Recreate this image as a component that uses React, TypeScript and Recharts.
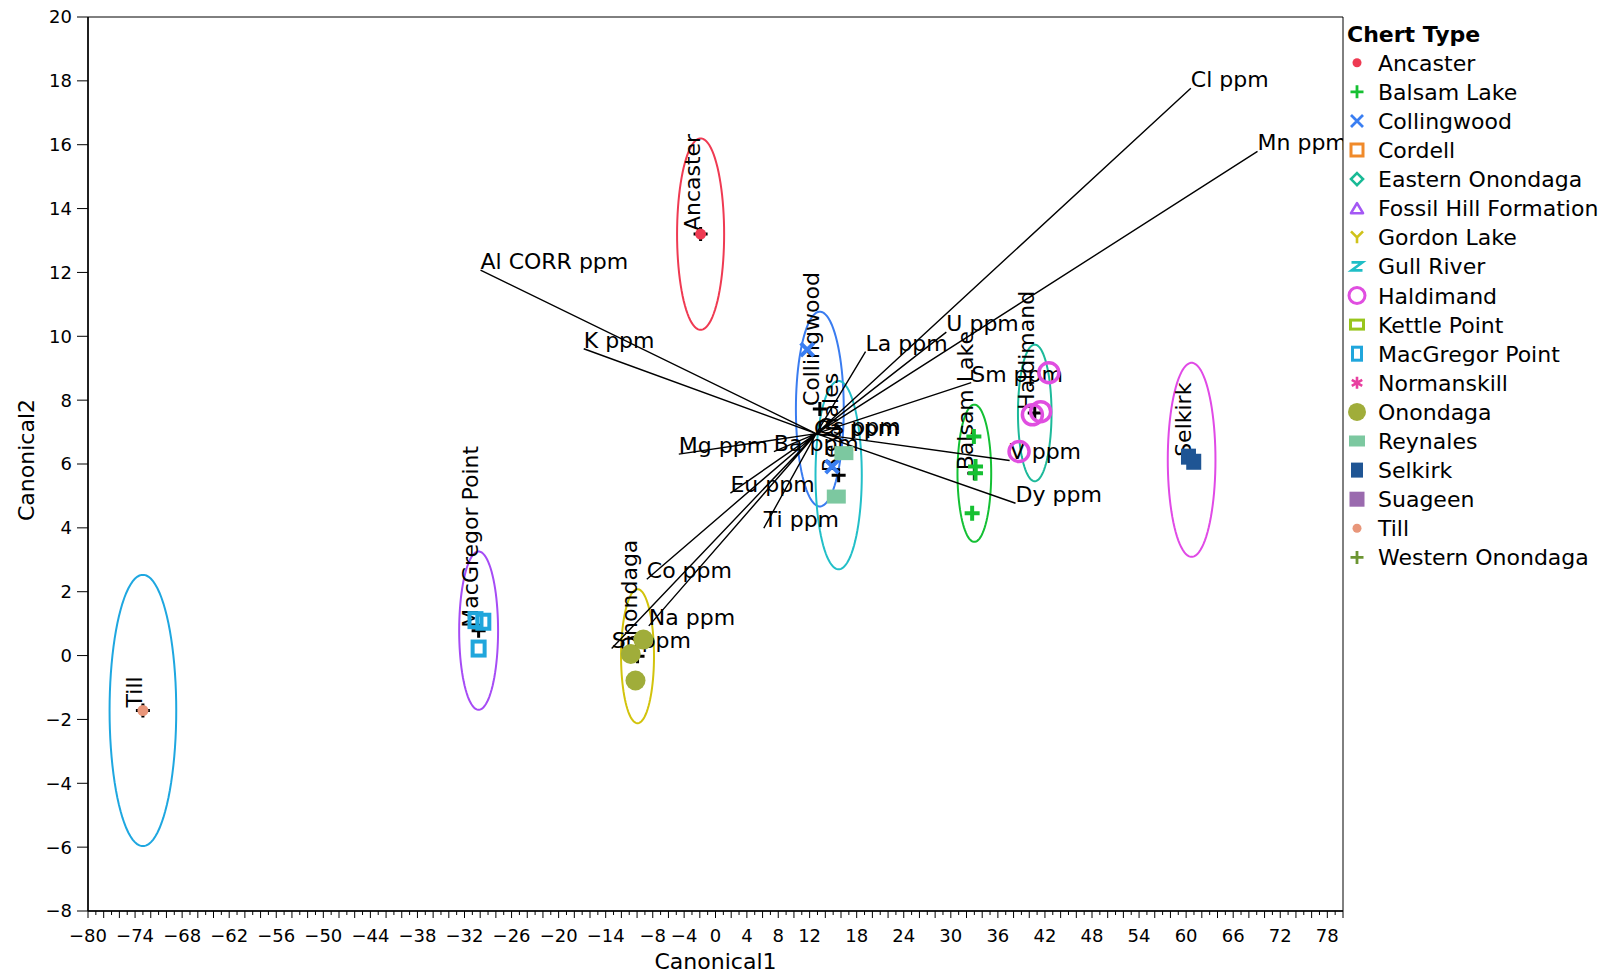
import React from "react";
import { ScatterChart, Scatter, XAxis, YAxis, ReferenceArea } from "recharts";

// legend entries (Chert Type)
const chertTypes = [
  "Ancaster",
  "Balsam Lake",
  "Collingwood",
  "Cordell",
  "Eastern Onondaga",
  "Fossil Hill Formation",
  "Gordon Lake",
  "Gull River",
  "Haldimand",
  "Kettle Point",
  "MacGregor Point",
  "Normanskill",
  "Onondaga",
  "Reynales",
  "Selkirk",
  "Suageen",
  "Till",
  "Western Onondaga",
];

// sample scores (Canonical1, Canonical2)
const ancasterPts = [{ x: -1.9, y: 13.2 }];
const tillPts = [{ x: -73.0, y: -1.72 }];
const macgregorPts = [
  { x: -30.6, y: 1.11 },
  { x: -29.6, y: 1.06 },
  { x: -30.2, y: 0.22 },
];
const onondagaPts = [
  { x: -9.2, y: 0.5 },
  { x: -10.8, y: 0.05 },
  { x: -10.2, y: -0.78 },
];
const collingwoodPts = [
  { x: 11.69, y: 9.58 },
  { x: 14.87, y: 5.92 },
];
const reynalesPts = [
  { x: 16.37, y: 6.34 },
  { x: 15.4, y: 4.98 },
];
const balsamPts = [
  { x: 32.94, y: 6.86 },
  { x: 33.15, y: 5.92 },
  { x: 33.15, y: 5.71 },
  { x: 32.72, y: 4.46 },
];
const haldimandPts = [
  { x: 42.5, y: 8.86 },
  { x: 40.4, y: 7.54 },
  { x: 41.45, y: 7.64 },
  { x: 38.7, y: 6.39 },
];
const selkirkPts = [
  { x: 60.3, y: 6.23 },
  { x: 60.97, y: 6.07 },
];

// group means and confidence radius (canonical units)
const groupMeans = [
  { name: "Ancaster", x: -1.9, y: 13.2, r: 3.0 },
  { name: "Till", x: -73.0, y: -1.72, r: 4.25 },
  { name: "MacGregor Point", x: -30.2, y: 0.78, r: 2.48 },
  { name: "Onondaga", x: -9.94, y: -0.02, r: 2.1 },
  { name: "Collingwood", x: 13.3, y: 7.72, r: 3.05 },
  { name: "Reynales", x: 15.7, y: 5.65, r: 2.95 },
  { name: "Balsam Lake", x: 33.0, y: 5.71, r: 2.15 },
  { name: "Haldimand", x: 40.7, y: 7.6, r: 2.14 },
  { name: "Selkirk", x: 60.7, y: 6.13, r: 3.04 },
];

// biplot rays
const rayOrigin = { x: 12.84, y: 6.95 };
const loadings = [
  { name: "Cl ppm", x: 60.6, y: 17.77 },
  { name: "Mn ppm", x: 69.1, y: 15.79 },
  { name: "Al CORR ppm", x: -29.96, y: 12.07 },
  { name: "K ppm", x: -16.8, y: 9.61 },
  { name: "La ppm", x: 19.13, y: 9.52 },
  { name: "U ppm", x: 29.43, y: 10.13 },
  { name: "Sm ppm", x: 32.6, y: 8.55 },
  { name: "V ppm", x: 37.5, y: 6.11 },
  { name: "Dy ppm", x: 38.25, y: 4.77 },
  { name: "Mg ppm", x: -4.68, y: 6.31 },
  { name: "Ba ppm", x: 7.44, y: 6.39 },
  { name: "Eu ppm", x: 1.9, y: 5.09 },
  { name: "Ti ppm", x: 6.16, y: 3.99 },
  { name: "Co ppm", x: -8.76, y: 2.39 },
  { name: "Na ppm", x: -8.5, y: 0.93 },
  { name: "Sr ppm", x: -13.24, y: 0.22 },
  { name: "Ca ppm", x: 12.55, y: 6.85 },
  { name: "Cs ppm", x: 13.0, y: 6.9 },
];

const xTickLabels = [
  -80, -74, -68, -62, -56, -50, -44, -38, -32, -26, -20, -14, -8, -4, 0, 4, 8,
  12, 18, 24, 30, 36, 42, 48, 54, 60, 66, 72, 78,
];
const xMinorTicks = Array.from({ length: 161 }, (_, i) => i - 80);
const yTicks = [-8, -6, -4, -2, 0, 2, 4, 6, 8, 10, 12, 14, 16, 18, 20];

// ---- styles ----
const typeStyle: Record<string, { color: string; kind: string; w: number; h: number; sw: number }> = {
  Ancaster: { color: "#ee3a52", kind: "dot", w: 9, h: 9, sw: 0 },
  "Balsam Lake": { color: "#16c032", kind: "plus", w: 13, h: 13, sw: 2.8 },
  Collingwood: { color: "#3a7ef2", kind: "cross", w: 12, h: 12, sw: 2.8 },
  Cordell: { color: "#f08a2a", kind: "box", w: 12, h: 12, sw: 3 },
  "Eastern Onondaga": { color: "#19ba96", kind: "diamond", w: 12, h: 12, sw: 2.6 },
  "Fossil Hill Formation": { color: "#a458f4", kind: "triangle", w: 12, h: 10, sw: 2.6 },
  "Gordon Lake": { color: "#cfc21a", kind: "ygly", w: 12, h: 12, sw: 2.6 },
  "Gull River": { color: "#1fbec6", kind: "zgly", w: 11, h: 8, sw: 2.6 },
  Haldimand: { color: "#e04ee0", kind: "ring", w: 16, h: 16, sw: 3 },
  "Kettle Point": { color: "#98c51c", kind: "box", w: 13, h: 9, sw: 3 },
  "MacGregor Point": { color: "#20a6dc", kind: "box", w: 9, h: 13, sw: 3 },
  Normanskill: { color: "#e840a0", kind: "star", w: 12, h: 12, sw: 2.6 },
  Onondaga: { color: "#a0ad3a", kind: "dot", w: 18, h: 18, sw: 0 },
  Reynales: { color: "#7cc8a0", kind: "fill", w: 16, h: 11, sw: 0 },
  Selkirk: { color: "#1f5594", kind: "fill", w: 12, h: 15, sw: 0 },
  Suageen: { color: "#9a6aae", kind: "fill", w: 15, h: 15, sw: 0 },
  Till: { color: "#e8967a", kind: "dot", w: 9, h: 9, sw: 0 },
  "Western Onondaga": { color: "#6c9532", kind: "plus", w: 13, h: 13, sw: 2.8 },
};

const ringColor: Record<string, string> = {
  Ancaster: "#ef3a52",
  Till: "#1ea7e0",
  "MacGregor Point": "#a64cf5",
  Onondaga: "#d2c30c",
  Collingwood: "#3a7cf0",
  Reynales: "#22bfc8",
  "Balsam Lake": "#14c034",
  Haldimand: "#1db99a",
  Selkirk: "#e04ae6",
};

function Mark({ x, y, kind, color, w, h, sw }: any) {
  const a = w / 2;
  const b = h / 2;
  switch (kind) {
    case "dot":
      return <circle cx={x} cy={y} r={a} fill={color} />;
    case "plus":
      return <path d={`M${x - a},${y}H${x + a}M${x},${y - b}V${y + b}`} stroke={color} strokeWidth={sw} fill="none" />;
    case "cross":
      return <path d={`M${x - a},${y - b}L${x + a},${y + b}M${x + a},${y - b}L${x - a},${y + b}`} stroke={color} strokeWidth={sw} fill="none" />;
    case "box":
      return <rect x={x - a} y={y - b} width={w} height={h} stroke={color} strokeWidth={sw} fill="none" />;
    case "diamond":
      return <polygon points={`${x},${y - b} ${x + a},${y} ${x},${y + b} ${x - a},${y}`} stroke={color} strokeWidth={sw} fill="none" />;
    case "triangle":
      return <polygon points={`${x},${y - b} ${x + a},${y + b} ${x - a},${y + b}`} stroke={color} strokeWidth={sw} fill="none" strokeLinejoin="round" />;
    case "ygly":
      return <path d={`M${x - a},${y - b}L${x},${y}L${x + a},${y - b}M${x},${y}V${y + b}`} stroke={color} strokeWidth={sw} fill="none" />;
    case "zgly":
      return <path d={`M${x - a},${y - b}H${x + a}L${x - a},${y + b}H${x + a}`} stroke={color} strokeWidth={sw} fill="none" />;
    case "ring":
      return <circle cx={x} cy={y} r={a} stroke={color} strokeWidth={sw} fill="none" />;
    case "star":
      return (
        <path
          d={`M${x},${y - b}V${y + b}M${x - a * 0.87},${y - b / 2}L${x + a * 0.87},${y + b / 2}M${x - a * 0.87},${y + b / 2}L${x + a * 0.87},${y - b / 2}`}
          stroke={color}
          strokeWidth={sw}
          fill="none"
        />
      );
    case "fill":
      return <rect x={x - a} y={y - b} width={w} height={h} fill={color} />;
    default:
      return null;
  }
}

// plotted marker sizes (bigger than legend glyphs)
const plotMark: Record<string, { w: number; h: number; sw: number }> = {
  Ancaster: { w: 11, h: 11, sw: 0 },
  Till: { w: 11, h: 11, sw: 0 },
  "MacGregor Point": { w: 12, h: 14, sw: 4 },
  Onondaga: { w: 20, h: 20, sw: 0 },
  Collingwood: { w: 13, h: 13, sw: 4 },
  Reynales: { w: 19, h: 14, sw: 0 },
  "Balsam Lake": { w: 15, h: 15, sw: 4 },
  Haldimand: { w: 20, h: 20, sw: 3.5 },
  Selkirk: { w: 15, h: 16, sw: 0 },
};

const groups: { name: string; data: { x: number; y: number }[] }[] = [
  { name: "Till", data: tillPts },
  { name: "MacGregor Point", data: macgregorPts },
  { name: "Onondaga", data: onondagaPts },
  { name: "Ancaster", data: ancasterPts },
  { name: "Collingwood", data: collingwoodPts },
  { name: "Reynales", data: reynalesPts },
  { name: "Balsam Lake", data: balsamPts },
  { name: "Haldimand", data: haldimandPts },
  { name: "Selkirk", data: selkirkPts },
];

// outline of a confidence circle around a group mean
function ringOutline(m: { x: number; y: number; r: number }) {
  const pts = [];
  for (let i = 0; i <= 90; i++) {
    const t = (i / 90) * Math.PI * 2;
    pts.push({ x: m.x + m.r * Math.cos(t), y: m.y + m.r * Math.sin(t) });
  }
  return pts;
}

const rayPath = loadings.flatMap((l) => [rayOrigin, { x: l.x, y: l.y }]);

const fmt = (v: number) => (v < 0 ? "\u2212" + Math.abs(v) : String(v));

const Empty = () => <g />;

const XTick = (props: any) => {
  const { x, y, payload } = props;
  const v = payload.value;
  const labeled = xTickLabels.includes(v);
  return (
    <g>
      <line x1={x} x2={x} y1={y} y2={y + (v % 2 === 0 ? 7 : 4)} stroke="#000" strokeWidth={1} />
      {labeled && (
        <text x={x} y={y + 31} textAnchor="middle" fontSize={18} fill="#000">
          {fmt(v)}
        </text>
      )}
    </g>
  );
};

const XTitle = (props: any) => {
  const vb = props.viewBox;
  return (
    <text x={vb.x + vb.width / 2} y={vb.y + 58} textAnchor="middle" fontSize={22} fill="#000">
      Canonical1
    </text>
  );
};

const YTitle = (props: any) => {
  const vb = props.viewBox;
  return (
    <text transform={`translate(34,${vb.y + vb.height / 2 - 4}) rotate(-90)`} textAnchor="middle" fontSize={22} fill="#000">
      Canonical2
    </text>
  );
};

const RayLabel = (p: any) => (
  <text x={p.cx} y={p.cy - 1} fontSize={22} fill="#000">
    {p.payload.name}
  </text>
);

const MeanMark = (p: any) => (
  <g>
    <path d={`M${p.cx - 7},${p.cy}H${p.cx + 7}M${p.cx},${p.cy - 7}V${p.cy + 7}`} stroke="#000" strokeWidth={3} />
    <text transform={`translate(${p.cx - 1},${p.cy - 3}) rotate(-90)`} fontSize={22} fill="#000">
      {p.payload.name}
    </text>
  </g>
);

function Legend() {
  return (
    <svg width={279} height={600} style={{ position: "absolute", left: 1340, top: 0 }}>
      <text x={7} y={42} fontSize={22} fontWeight="bold" fill="#000">
        Chert Type
      </text>
      {chertTypes.map((t, i) => {
        const s = typeStyle[t];
        const cy = 62.7 + i * 29.1;
        return (
          <g key={t}>
            <Mark x={17} y={cy} kind={s.kind} color={s.color} w={s.w} h={s.h} sw={s.sw} />
            <text x={38} y={cy + 8} fontSize={22} fill="#000">
              {t}
            </text>
          </g>
        );
      })}
    </svg>
  );
}

export default function App() {
  return (
    <div style={{ position: "absolute", left: 0, top: 0, width: 1619, height: 976, fontFamily: "'DejaVu Sans', Verdana, sans-serif", background: "#fff" }}>
      <ScatterChart width={1619} height={976} margin={{ top: 17, right: 276, bottom: 0, left: 0 }}>
        <XAxis
          type="number"
          dataKey="x"
          domain={[-80, 80]}
          ticks={xMinorTicks}
          interval={0}
          tickSize={0}
          tickMargin={0}
          tickLine={false}
          axisLine={{ stroke: "#000", strokeWidth: 1.5 }}
          tick={<XTick />}
          height={65}
          allowDataOverflow
          label={<XTitle />}
        />
        <YAxis
          type="number"
          dataKey="y"
          domain={[-8, 20]}
          ticks={yTicks}
          interval={0}
          width={88}
          tickSize={11}
          tickMargin={5}
          tickLine={{ stroke: "#000" }}
          axisLine={{ stroke: "#000", strokeWidth: 1.5 }}
          tick={{ fontSize: 18, fill: "#000" }}
          tickFormatter={fmt}
          allowDataOverflow
          label={<YTitle />}
        />
        <ReferenceArea x1={-80} x2={80} y1={-8} y2={20} fill="none" stroke="#000" strokeWidth={1} fillOpacity={0} />
        {groupMeans.map((m) => (
          <Scatter
            key={"ring-" + m.name}
            data={ringOutline(m)}
            line={{ stroke: ringColor[m.name], strokeWidth: 2 }}
            lineType="joint"
            shape={<Empty />}
            isAnimationActive={false}
          />
        ))}
        <Scatter data={rayPath} line={{ stroke: "#000", strokeWidth: 1.4 }} lineType="joint" shape={<Empty />} isAnimationActive={false} />
        <Scatter data={loadings} shape={RayLabel} isAnimationActive={false} />
        <Scatter data={groupMeans} shape={MeanMark} isAnimationActive={false} />
        {groups.map((g) => {
          const s = typeStyle[g.name];
          const pm = plotMark[g.name];
          return (
            <Scatter
              key={g.name}
              name={g.name}
              data={g.data}
              isAnimationActive={false}
              shape={(p: any) => <Mark x={p.cx} y={p.cy} kind={s.kind} color={s.color} w={pm.w} h={pm.h} sw={pm.sw} />}
            />
          );
        })}
      </ScatterChart>
      <Legend />
    </div>
  );
}
